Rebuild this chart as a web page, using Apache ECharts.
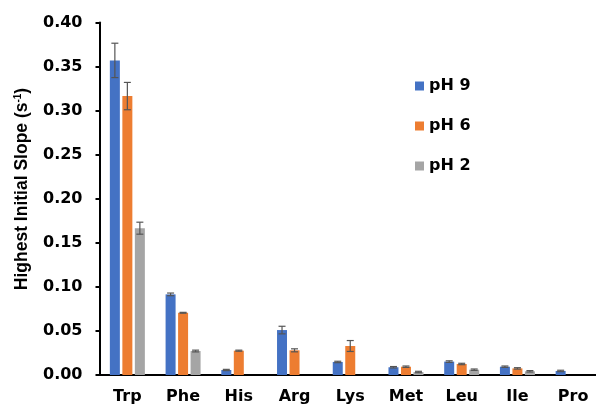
<!DOCTYPE html>
<html>
<head>
<meta charset="utf-8">
<script src="https://cdn.jsdelivr.net/npm/echarts@6/dist/echarts.min.js"></script>
<style>
  html, body { margin: 0; padding: 0; background: #fff; }
  #chart { width: 596px; height: 406px; }
</style>
</head>
<body>
<div id="chart"></div>
<script>
// Amino acids on the category axis
const categories = ['Trp', 'Phe', 'His', 'Arg', 'Lys', 'Met', 'Leu', 'Ile', 'Pro'];

// Highest initial slope (s^-1) per pH; null where no bar exists
const ph9 = [0.357, 0.0915, 0.0057, 0.051, 0.0148, 0.0088, 0.0152, 0.0094, 0.0046];
const ph6 = [0.3165, 0.0706, 0.0276, 0.028, 0.0329, 0.0094, 0.0125, 0.0075, null];
const ph2 = [0.1666, 0.0272, null, null, null, 0.0034, 0.006, 0.0042, null];

// Standard errors for each bar
const err9 = [0.0195, 0.0015, 0.0007, 0.0043, 0.0008, 0.0008, 0.0009, 0.0008, 0.0008];
const err6 = [0.0155, 0.0005, 0.0006, 0.0017, 0.0062, 0.0008, 0.0008, 0.0008, null];
const err2 = [0.0068, 0.001, null, null, null, 0.0008, 0.0008, 0.0008, null];

const yTicks = { min: 0, max: 0.4, interval: 0.05 };

const seriesNames = ['pH 9', 'pH 6', 'pH 2'];
const colors = ['#4472C4', '#ED7D31', '#A5A5A5'];
const values = [ph9, ph6, ph2];
const errors = [err9, err6, err2];

const BAR_W = 10;
const BAR_GAP = 0.25;
const LABEL_FONT = "'DejaVu Sans', sans-serif";
const TITLE_FONT = "'Liberation Sans', Arial, sans-serif";

const barSeries = values.map((vals, k) => ({
  name: seriesNames[k],
  type: 'bar',
  data: vals,
  barWidth: BAR_W,
  barGap: (BAR_GAP * 100) + '%',
  itemStyle: { color: colors[k] },
  emphasis: { disabled: true },
  z: 2
}));

// Error bars placed over each bar slot
const errorSeries = values.map((vals, k) => ({
  type: 'custom',
  name: seriesNames[k] + ' err',
  data: vals.map((v, i) => (v == null ? null : [i, v, errors[k][i]])).filter(d => d),
  z: 5,
  silent: true,
  renderItem: function (params, api) {
    const i = api.value(0), v = api.value(1), e = api.value(2);
    const slot = BAR_W * (1 + BAR_GAP);
    const x = api.coord([i, 0])[0] + (k - 1) * slot;
    const yT = api.coord([i, v + e])[1];
    const yB = api.coord([i, v - e])[1];
    const cap = 3.5;
    const style = { stroke: '#555555', lineWidth: 1.2 };
    return {
      type: 'group',
      children: [
        { type: 'line', shape: { x1: x, y1: yT, x2: x, y2: yB }, style },
        { type: 'line', shape: { x1: x - cap, y1: yT, x2: x + cap, y2: yT }, style },
        { type: 'line', shape: { x1: x - cap, y1: yB, x2: x + cap, y2: yB }, style }
      ]
    };
  }
}));

const chart = echarts.init(document.getElementById('chart'), null, { renderer: 'canvas' });
chart.setOption({
  animation: false,
  backgroundColor: '#fff',
  textStyle: { fontFamily: LABEL_FONT },
  grid: {
    left: 99.5, right: -5, top: 22.5, bottom: 31,
    containLabel: false,
    outerBoundsMode: 'none'
  },
  legend: {
    data: seriesNames,
    orient: 'vertical',
    left: 410,
    top: 72,
    icon: 'rect',
    itemWidth: 9,
    itemHeight: 9,
    itemGap: 22,
    textStyle: { fontFamily: LABEL_FONT, fontSize: 16, fontWeight: 'bold', color: '#000', lineHeight: 18 },
    selectedMode: false
  },
  graphic: [{
    type: 'text',
    x: 22,
    y: 189,
    rotation: Math.PI / 2,
    silent: true,
    style: {
      text: '{t|Highest Initial Slope (s}{s|-1}{t|)}',
      align: 'center',
      verticalAlign: 'middle',
      rich: {
        t: { fontFamily: TITLE_FONT, fontSize: 17.5, fontWeight: 'bold', fill: '#000' },
        s: { fontFamily: TITLE_FONT, fontSize: 10, fontWeight: 'bold', fill: '#000', verticalAlign: 'top', padding: [0, 0, 7, 0] }
      }
    }
  }],
  xAxis: {
    type: 'category',
    data: categories,
    axisLine: { lineStyle: { color: '#000', width: 2 } },
    axisTick: { show: false },
    axisLabel: { fontFamily: LABEL_FONT, fontSize: 16, fontWeight: 'bold', color: '#000', margin: 14 }
  },
  yAxis: {
    type: 'value',
    min: yTicks.min,
    max: yTicks.max,
    interval: yTicks.interval,
    splitLine: { show: false },
    axisLine: { show: true, lineStyle: { color: '#000', width: 2 } },
    axisTick: { show: true, length: 4, lineStyle: { color: '#000', width: 2 } },
    axisLabel: {
      fontFamily: LABEL_FONT, fontSize: 16, fontWeight: 'bold', color: '#000', margin: 17,
      formatter: v => v.toFixed(2)
    }
  },
  series: barSeries.concat(errorSeries)
});
</script>
</body>
</html>
